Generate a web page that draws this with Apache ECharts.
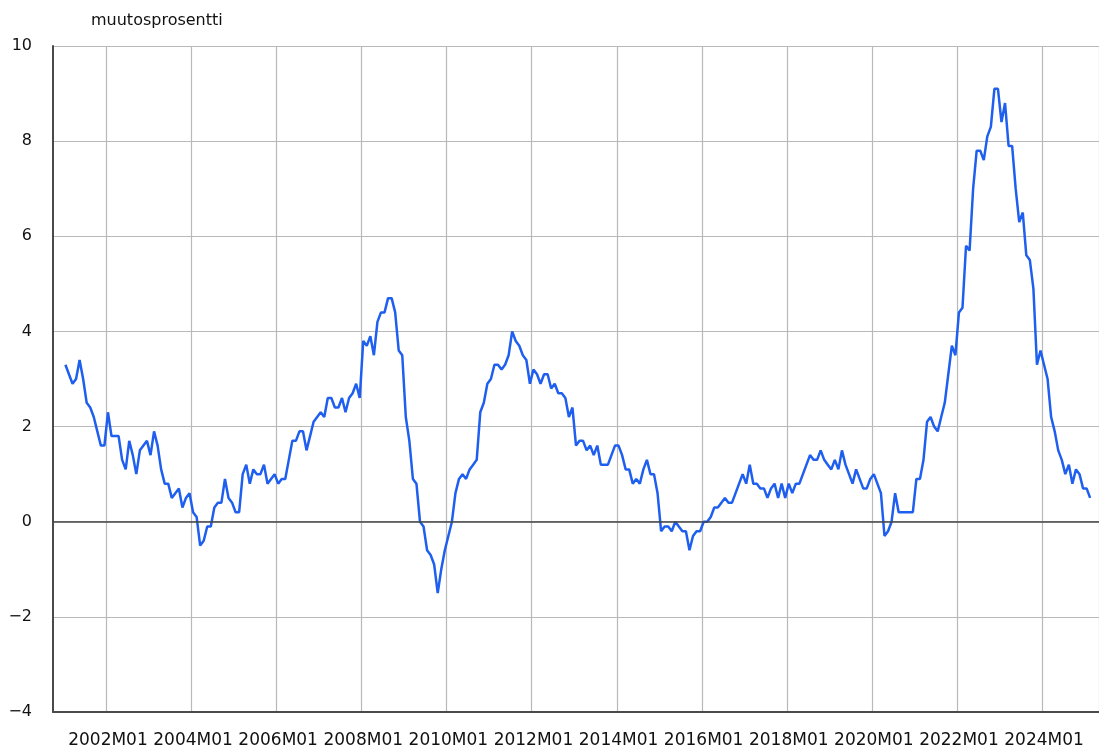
<!DOCTYPE html>
<html>
<head>
<meta charset="utf-8">
<script src="https://cdn.jsdelivr.net/npm/echarts@6/dist/echarts.min.js"></script>
<style>
html, body { margin: 0; padding: 0; background: #fff; }
#main { width: 1099px; height: 749px; }
</style>
</head>
<body>
<div id="main"></div>
<script>
// Yearly change of the consumer price index, %, by month (2001M01 - 2025M02)
var y2001 = [3.3, 3.1, 2.9, 3.0, 3.4, 3.0, 2.5, 2.4, 2.2, 1.9, 1.6, 1.6];
var y2002 = [2.3, 1.8, 1.8, 1.8, 1.3, 1.1, 1.7, 1.4, 1.0, 1.5, 1.6, 1.7];
var y2003 = [1.4, 1.9, 1.6, 1.1, 0.8, 0.8, 0.5, 0.6, 0.7, 0.3, 0.5, 0.6];
var y2004 = [0.2, 0.1, -0.5, -0.4, -0.1, -0.1, 0.3, 0.4, 0.4, 0.9, 0.5, 0.4];
var y2005 = [0.2, 0.2, 1.0, 1.2, 0.8, 1.1, 1.0, 1.0, 1.2, 0.8, 0.9, 1.0];
var y2006 = [0.8, 0.9, 0.9, 1.3, 1.7, 1.7, 1.9, 1.9, 1.5, 1.8, 2.1, 2.2];
var y2007 = [2.3, 2.2, 2.6, 2.6, 2.4, 2.4, 2.6, 2.3, 2.6, 2.7, 2.9, 2.6];
var y2008 = [3.8, 3.7, 3.9, 3.5, 4.2, 4.4, 4.4, 4.7, 4.7, 4.4, 3.6, 3.5];
var y2009 = [2.2, 1.7, 0.9, 0.8, 0.0, -0.1, -0.6, -0.7, -0.9, -1.5, -1.0, -0.6];
var y2010 = [-0.3, 0.0, 0.6, 0.9, 1.0, 0.9, 1.1, 1.2, 1.3, 2.3, 2.5, 2.9];
var y2011 = [3.0, 3.3, 3.3, 3.2, 3.3, 3.5, 4.0, 3.8, 3.7, 3.5, 3.4, 2.9];
var y2012 = [3.2, 3.1, 2.9, 3.1, 3.1, 2.8, 2.9, 2.7, 2.7, 2.6, 2.2, 2.4];
var y2013 = [1.6, 1.7, 1.7, 1.5, 1.6, 1.4, 1.6, 1.2, 1.2, 1.2, 1.4, 1.6];
var y2014 = [1.6, 1.4, 1.1, 1.1, 0.8, 0.9, 0.8, 1.1, 1.3, 1.0, 1.0, 0.6];
var y2015 = [-0.2, -0.1, -0.1, -0.2, 0.0, -0.1, -0.2, -0.2, -0.6, -0.3, -0.2, -0.2];
var y2016 = [0.0, 0.0, 0.1, 0.3, 0.3, 0.4, 0.5, 0.4, 0.4, 0.6, 0.8, 1.0];
var y2017 = [0.8, 1.2, 0.8, 0.8, 0.7, 0.7, 0.5, 0.7, 0.8, 0.5, 0.8, 0.5];
var y2018 = [0.8, 0.6, 0.8, 0.8, 1.0, 1.2, 1.4, 1.3, 1.3, 1.5, 1.3, 1.2];
var y2019 = [1.1, 1.3, 1.1, 1.5, 1.2, 1.0, 0.8, 1.1, 0.9, 0.7, 0.7, 0.9];
var y2020 = [1.0, 0.8, 0.6, -0.3, -0.2, 0.0, 0.6, 0.2, 0.2, 0.2, 0.2, 0.2];
var y2021 = [0.9, 0.9, 1.3, 2.1, 2.2, 2.0, 1.9, 2.2, 2.5, 3.1, 3.7, 3.5];
var y2022 = [4.4, 4.5, 5.8, 5.7, 7.0, 7.8, 7.8, 7.6, 8.1, 8.3, 9.1, 9.1];
var y2023 = [8.4, 8.8, 7.9, 7.9, 7.0, 6.3, 6.5, 5.6, 5.5, 4.9, 3.3, 3.6];
var y2024 = [3.3, 3.0, 2.2, 1.9, 1.5, 1.3, 1.0, 1.2, 0.8, 1.1, 1.0, 0.7];
var y2025 = [0.7, 0.5];

var tickLabels = ['2002M01', '2004M01', '2006M01', '2008M01', '2010M01', '2012M01',
                  '2014M01', '2016M01', '2018M01', '2020M01', '2022M01', '2024M01'];

var yMin = -4, yMax = 10, yStep = 2;

// month categories; the axis has a few empty months at both ends
var firstMonth = '2000M10', lastMonth = '2025M04';
var allMonths = [];
for (var yr = 2000; yr <= 2025; yr++) {
    for (var m = 1; m <= 12; m++) {
        allMonths.push(yr + 'M' + (m < 10 ? '0' + m : m));
    }
}
var categories = allMonths.slice(allMonths.indexOf(firstMonth), allMonths.indexOf(lastMonth) + 1);

var values = [].concat(y2001, y2002, y2003, y2004, y2005, y2006, y2007, y2008, y2009,
    y2010, y2011, y2012, y2013, y2014, y2015, y2016, y2017, y2018, y2019, y2020,
    y2021, y2022, y2023, y2024, y2025);

var startIdx = categories.indexOf('2001M01');
var data = categories.map(function (c, i) {
    var k = i - startIdx;
    return (k >= 0 && k < values.length) ? values[k] : null;
});

function isTick(index, value) {
    return tickLabels.indexOf(value) >= 0;
}

var font = 'DejaVu Sans, Verdana, sans-serif';

var myChart = echarts.init(document.getElementById('main'));

var option = {
    animation: false,
    title: {
        text: 'muutosprosentti',
        left: 86,
        top: 8,
        textStyle: { fontFamily: font, fontSize: 16, fontWeight: 'normal', color: '#111' }
    },
    grid: { left: 53, top: 46, width: 1048, bottom: 37 },
    xAxis: {
        type: 'category',
        data: categories,
        boundaryGap: true,
        axisLine: { onZero: false, lineStyle: { color: '#4a4a4a', width: 2 } },
        axisTick: { interval: isTick, length: 13, lineStyle: { color: '#ccd6eb', width: 1 } },
        axisLabel: { interval: isTick, fontFamily: font, fontSize: 17, color: '#111', margin: 20 },
        splitLine: { show: true, interval: isTick, lineStyle: { color: '#b9b9b9', width: 1.2 } }
    },
    yAxis: {
        type: 'value',
        min: yMin,
        max: yMax,
        interval: yStep,
        axisLine: { show: true, lineStyle: { color: '#4a4a4a', width: 2 } },
        axisTick: { show: false },
        axisLabel: {
            fontFamily: font, fontSize: 16, color: '#111', margin: 21,
            formatter: function (v) { return String(v).replace('-', '\u2212'); }
        },
        splitLine: { lineStyle: { color: '#b9b9b9', width: 1.2 } }
    },
    series: [
        {
            name: 'muutosprosentti',
            type: 'line',
            data: data,
            showSymbol: false,
            lineStyle: { color: '#1f5ff0', width: 2.5 },
            itemStyle: { color: '#1f5ff0' },
            markLine: {
                silent: true,
                symbol: ['none', 'none'],
                label: { show: false },
                lineStyle: { color: '#444', width: 1.5, type: 'solid' },
                data: [{ yAxis: 0 }]
            }
        }
    ]
};

myChart.setOption(option);
</script>
</body>
</html>
